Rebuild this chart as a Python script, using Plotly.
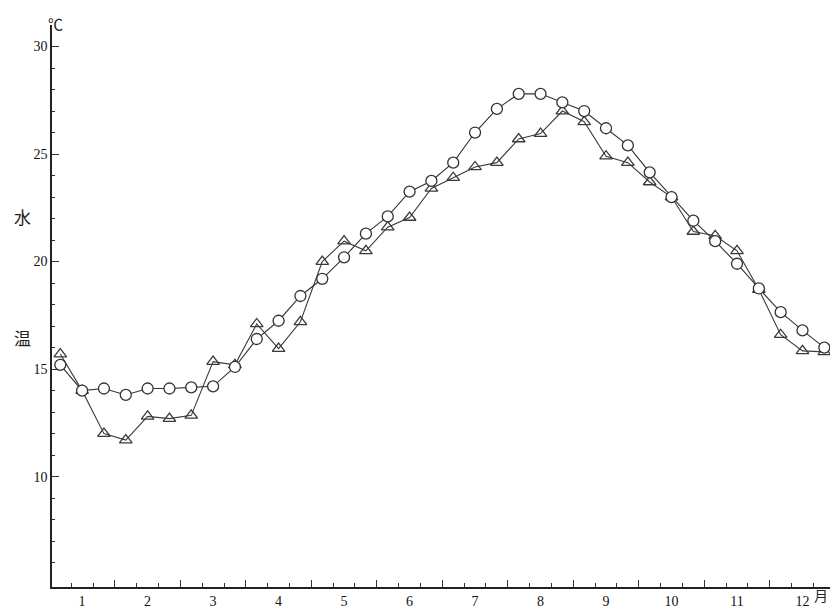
import plotly.graph_objects as go

months = list(range(1, 13))
month_labels = [str(m) for m in months]
dekads = [-1/3, 0, 1/3]  # offsets of the three 10-day periods within each month

circle_temp = [15.2, 14.0, 14.1, 13.8, 14.1, 14.1, 14.15, 14.2, 15.1,
               16.4, 17.25, 18.4, 19.2, 20.2, 21.3, 22.1, 23.25, 23.75,
               24.6, 26.0, 27.1, 27.8, 27.8, 27.4, 27.0, 26.2, 25.4,
               24.15, 23.0, 21.9, 20.95, 19.9, 18.75, 17.65, 16.8, 16.0]

triangle_temp = [15.7, 14.0, 12.0, 11.7, 12.8, 12.7, 12.85, 15.35, 15.2,
                 17.1, 15.95, 17.2, 20.0, 20.95, 20.5, 21.6, 22.05, 23.4,
                 23.9, 24.4, 24.6, 25.7, 25.95, 27.0, 26.5, 24.9, 24.6,
                 23.7, 23.0, 21.4, 21.2, 20.5, 18.7, 16.6, 15.85, 15.8]

y_major = [10, 15, 20, 25, 30]
y_minor = [v for v in range(6, 30) if v not in y_major]

x_pos = [m + d for m in months for d in dekads]
x_minor = [m + d for m in months for d in (-1/6, 1/6)]
x_month_bounds = [m + 0.5 for m in months]

line_col = "#333333"
fig = go.Figure()

fig.add_trace(go.Scatter(
    x=x_pos, y=triangle_temp, mode="lines+markers",
    line=dict(color="#3a3a3a", width=1.1),
    marker=dict(symbol="triangle-up-open", size=11, color="#3a3a3a",
                line=dict(width=1.3)),
    showlegend=False, hoverinfo="skip"))

fig.add_trace(go.Scatter(
    x=x_pos, y=circle_temp, mode="lines+markers",
    line=dict(color=line_col, width=1.1),
    marker=dict(symbol="circle", size=11, color="white",
                line=dict(color=line_col, width=1.3)),
    showlegend=False, hoverinfo="skip"))

font = dict(family="Liberation Serif", size=14, color="#111")

fig.update_layout(
    width=834, height=613,
    margin=dict(l=52, r=4, t=25, b=22),
    paper_bgcolor="white", plot_bgcolor="white",
    font=font,
    xaxis=dict(
        range=[0.54, 12.42], showgrid=False, zeroline=False,
        showline=True, linecolor="#222", linewidth=1.5,
        tickmode="array", tickvals=months, ticktext=month_labels,
        ticks="", tickfont=font,
        minor=dict(tickmode="array", tickvals=x_minor, ticks="inside",
                   ticklen=4, tickcolor="#333", tickwidth=1.2, showgrid=False),
    ),
    xaxis2=dict(
        range=[0.54, 12.42], overlaying="x", side="bottom", anchor="y",
        showgrid=False, zeroline=False, showline=False,
        tickmode="array", tickvals=x_month_bounds, ticks="inside",
        ticklen=7, tickcolor="#333", tickwidth=1.2, showticklabels=False,
    ),
    yaxis=dict(
        range=[4.87, 31.0], showgrid=False, zeroline=False,
        showline=True, linecolor="#222", linewidth=1.5,
        tickmode="array", tickvals=y_major, ticks="inside", ticklen=7,
        tickcolor="#333", tickwidth=1.2,
        tickfont=dict(family="Liberation Serif", size=14, color="#111"),
        minor=dict(tickmode="array", tickvals=y_minor, ticks="inside",
                   ticklen=3, tickcolor="#333", tickwidth=1.2, showgrid=False),
    ),
)

# invisible trace to activate xaxis2 (month-boundary ticks)
fig.add_trace(go.Scatter(x=[x_pos[0]], y=[circle_temp[0]], xaxis="x2",
                         mode="markers", marker=dict(opacity=0),
                         showlegend=False, hoverinfo="skip"))

ann_font = dict(family="Noto Sans CJK JP", size=17, color="#222")
fig.add_annotation(text="℃", xref="paper", yref="paper", x=-0.008, y=1.025,
                   showarrow=False, font=dict(family="Noto Sans CJK JP", size=15, color="#222"))
fig.add_annotation(text="水", xref="paper", yref="paper", x=-0.052, y=0.659,
                   showarrow=False, font=ann_font)
fig.add_annotation(text="温", xref="paper", yref="paper", x=-0.052, y=0.4435,
                   showarrow=False, font=ann_font)
fig.add_annotation(text="月", xref="paper", yref="paper", x=1.0, y=-0.035,
                   showarrow=False, font=dict(family="Noto Sans CJK JP", size=14, color="#222"))

fig.write_html("out.html", config={"displayModeBar": False},
               post_script="document.body.style.margin='0';document.body.style.overflow='hidden';")
